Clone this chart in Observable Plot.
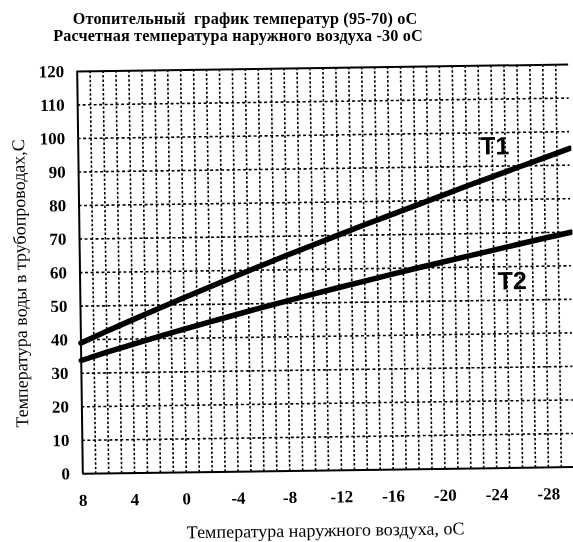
<!DOCTYPE html>
<html><head><meta charset="utf-8">
<script src="https://cdn.jsdelivr.net/npm/d3@7"></script>
<script src="https://cdn.jsdelivr.net/npm/@observablehq/plot@0.6"></script>
<style>
body{margin:0;background:#fff;width:573px;height:542px;overflow:hidden;filter:grayscale(1);}
#title{position:relative;height:50px;width:573px;}
#fig{position:relative;width:573px;height:492px;background:#fff;transform:rotate(-0.8deg);transform-origin:286.5px 221px;}
.t{position:absolute;width:440px;text-align:center;font-family:"Liberation Serif","Times New Roman",serif;font-weight:bold;white-space:pre;color:#000;font-size:16.2px;letter-spacing:0.15px;line-height:16px;}
</style></head><body>
<div id="title">
  <div class="t" style="left:25px;top:11px">Отопительный  график температур (95-70) оС</div>
  <div class="t" style="left:18px;top:27.5px">Расчетная температура наружного воздуха -30 оС</div>
</div>
<div id="fig"><div id="chart"></div></div>
<script>
// outdoor air temperature, °C
const outdoor = [8, 6, 4, 2, 0, -2, -4, -6, -8, -10, -12, -14, -16, -18, -20, -22, -24, -26, -28, -30];
// supply water T1, °C
const t1 = [39.0, 42.4, 45.7, 48.9, 52.1, 55.2, 58.3, 61.3, 64.3, 67.2, 70.1, 73.0, 75.8, 78.6, 81.4, 84.2, 86.9, 89.6, 92.3, 95.0];
// return water T2, °C
const t2 = [33.8, 36.2, 38.4, 40.6, 42.7, 44.8, 46.8, 48.8, 50.7, 52.6, 54.5, 56.3, 58.1, 59.9, 61.6, 63.3, 65.0, 66.7, 68.4, 70.0];
const xTicks = [8, 4, 0, -4, -8, -12, -16, -20, -24, -28];
const yTicks = [0, 10, 20, 30, 40, 50, 60, 70, 80, 90, 100, 110, 120];
const gridX = d3.range(7, -30, -1);
const gridY = [10, 20, 30, 40, 50, 60, 70, 80, 90, 100, 110];
const seriesLabels = [
  {text: "T1", x: -24.2, y: 95.9},
  {text: "T2", x: -25.4, y: 55.6}
];
const yTitle = "Температура воды в трубопроводах,С";
const xTitle = "Температура наружного воздуха, оС";

const rows = outdoor.map((t, i) => ({t, t1: t1[i], t2: t2[i]}));

const chart = Plot.plot({
  width: 573,
  height: 492,
  marginTop: 18,
  marginBottom: 71.5,
  marginLeft: 79.5,
  marginRight: 2,
  x: {domain: [8, -30]},
  y: {domain: [0, 120]},
  style: {fontFamily: "'Liberation Serif', 'Times New Roman', serif", fontSize: "17px", fontWeight: "bold", color: "#000", background: "#fff"},
  marks: [
    Plot.ruleX(gridX, {stroke: "#000", strokeWidth: 1.6, strokeDasharray: "2.5,2"}),
    Plot.ruleY(gridY, {stroke: "#000", strokeWidth: 1.6, strokeDasharray: "3,2.5"}),
    Plot.line(rows, {x: "t", y: "t1", stroke: "#000", strokeWidth: 5.5}),
    Plot.line(rows, {x: "t", y: "t2", stroke: "#000", strokeWidth: 5.5}),
    Plot.ruleX([8], {stroke: "#000", strokeWidth: 2}),
    Plot.ruleY([0, 120], {stroke: "#000", strokeWidth: 2}),
    Plot.axisX({ticks: xTicks, tickSize: 0, tickPadding: 20, label: null, fill: "#000", tickFormat: d => String(d)}),
    Plot.axisY({ticks: yTicks, tickSize: 0, tickPadding: 13, label: null, fill: "#000", tickFormat: d => String(d)}),
    Plot.text([yTitle], {text: d => d, frameAnchor: "left", textAnchor: "middle", lineAnchor: "middle", dx: -59.7, dy: 10, rotate: -90, fill: "#000", fontWeight: "normal", fontSize: 18}),
    Plot.text([xTitle], {text: d => d, frameAnchor: "bottom", textAnchor: "middle", lineAnchor: "middle", dx: -3.8, dy: 60, fill: "#000", fontWeight: "normal", fontSize: 18}),
    Plot.text(seriesLabels, {x: "x", y: "y", text: "text", fill: "#000", fontFamily: "'Liberation Sans Narrow', 'Liberation Sans', Arial, sans-serif", fontSize: 25, fontWeight: "bold"})
  ]
});
document.getElementById("chart").appendChild(chart);
</script>
</body></html>
